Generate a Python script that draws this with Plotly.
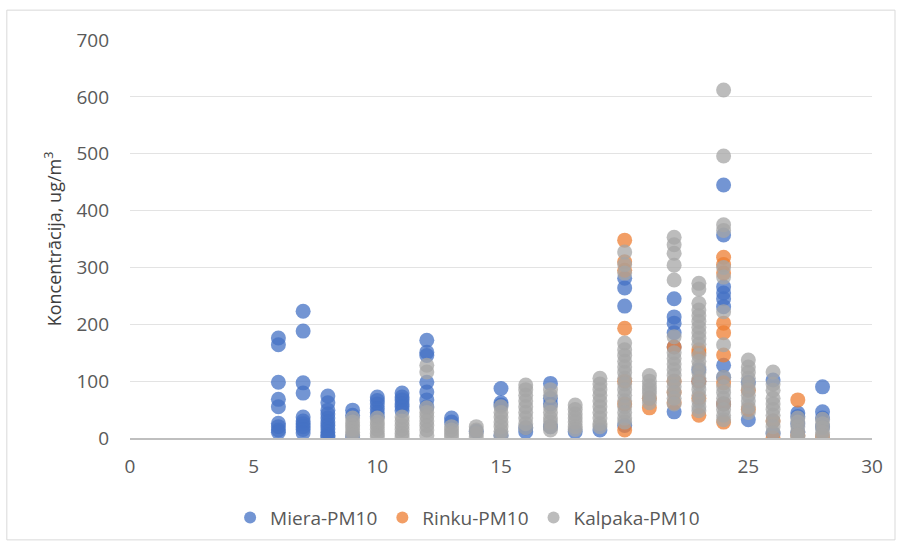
import plotly.graph_objects as go

# PM10 concentrations (ug/m3) per day for three monitoring stations
miera_days = [6, 7, 8, 9, 10, 11, 12, 13, 14, 15, 16, 17, 18, 19, 20, 22, 23, 24, 25, 26, 27, 28]
miera_values = [
    [176, 164, 98, 68, 55, 26, 20, 14, 10],
    [223, 188, 97, 79, 37, 30, 25, 20, 15, 9],
    [74, 62, 49, 42, 35, 28, 22, 16, 10, 5, 2],
    [49, 40, 2],
    [72, 66, 60, 52, 45, 38],
    [79, 72, 67, 60, 55, 48],
    [172, 151, 145, 98, 81, 67, 55],
    [35, 28],
    [12],
    [87, 62, 58, 5],
    [11, 18],
    [96, 70, 60, 20],
    [11],
    [14],
    [281, 264, 232, 22],
    [245, 213, 202, 185, 160, 46],
    [120, 100],
    [445, 357, 266, 255, 245, 231, 128, 107, 60],
    [98, 32],
    [102, 8],
    [44, 38, 25, 10],
    [90, 46, 35, 20],
]

rinku_days = [20, 21, 22, 23, 24, 25, 26, 27, 28]
rinku_values = [
    [348, 310, 295, 193, 100, 60, 14],
    [70, 53],
    [160, 100, 80, 62],
    [155, 150, 100, 70, 40],
    [318, 305, 290, 202, 185, 146, 97, 60, 28],
    [84, 50],
    [30, 0],
    [67, 5],
    [2],
]

kalpaka_days = [9, 10, 11, 12, 13, 14, 15, 16, 17, 18, 19, 20, 21, 22, 23, 24, 25, 26, 27, 28]
kalpaka_values = [
    [35, 28, 22, 16, 10, 5],
    [35, 28, 22, 15, 8, 3],
    [37, 30, 22, 15, 8, 2],
    [128, 116, 53, 45, 38, 30, 22, 14, 5],
    [20, 14, 8, 2],
    [20, 14, 8, 2],
    [55, 45, 37, 28, 20, 12, 5],
    [93, 85, 75, 65, 55, 45, 35, 25, 18],
    [85, 75, 55, 45, 35, 28, 20, 14],
    [58, 50, 42, 35, 28, 20, 15],
    [105, 95, 85, 75, 65, 55, 45, 35, 25, 20],
    [327, 305, 290, 167, 155, 145, 135, 125, 115, 105, 95, 85, 75, 65, 55, 45, 35, 28],
    [110, 100, 92, 85, 78, 70, 62],
    [353, 340, 325, 304, 278, 178, 150, 140, 130, 120, 110, 100, 90, 80, 70, 60],
    [272, 262, 237, 225, 215, 205, 195, 185, 175, 165, 145, 135, 125, 115, 105, 95, 85, 75, 65, 55, 48],
    [612, 496, 375, 365, 300, 283, 222, 164, 107, 90, 80, 70, 60, 50, 40, 32],
    [137, 125, 115, 105, 95, 85, 75, 65, 55, 45],
    [116, 95, 84, 70, 60, 50, 40, 30, 20, 9],
    [35, 28, 20, 12, 5, 2],
    [33, 25, 18, 10, 4],
]

series_names = ["Miera-PM10", "Rinku-PM10", "Kalpaka-PM10"]
series_colors = ["#4472C4", "#ED7D31", "#A5A5A5"]


def flatten(days, values):
    xs, ys = [], []
    for d, vals in zip(days, values):
        for v in vals:
            xs.append(d)
            ys.append(v)
    return xs, ys


fig = go.Figure()
for name, color, (days, values) in zip(
    series_names, series_colors,
    [(miera_days, miera_values), (rinku_days, rinku_values), (kalpaka_days, kalpaka_values)],
):
    xs, ys = flatten(days, values)
    fig.add_trace(go.Scatter(
        x=xs, y=ys, mode="markers", name=name,
        marker=dict(size=15, color=color, opacity=0.75, line=dict(width=0)),
    ))

font_family = "Open Sans, Liberation Sans, sans-serif"
text_color = "#595959"

fig.update_layout(
    width=902, height=549,
    margin=dict(l=130, r=30, t=40, b=111),
    paper_bgcolor="white", plot_bgcolor="white",
    font=dict(family=font_family, color=text_color, size=18),
    showlegend=True,
    legend=dict(
        orientation="h", x=0.455, xanchor="center", y=-0.2, yanchor="middle",
        font=dict(size=19, color=text_color), itemsizing="constant",
        bgcolor="rgba(0,0,0,0)",
    ),
    xaxis=dict(
        range=[0, 30], dtick=5, tick0=0, showgrid=False, zeroline=False,
        showline=True, linecolor="#BFBFBF", linewidth=2,
        tickfont=dict(size=19, color=text_color), ticks="", ticklabelstandoff=10,
    ),
    yaxis=dict(
        range=[0, 700], dtick=100, tick0=0, showgrid=True, gridcolor="#E3E3E3",
        gridwidth=1, zeroline=False, showline=False,
        tickfont=dict(size=19, color=text_color), ticks="", ticklabelstandoff=20,
        title=dict(text="Koncentrācija, ug/m<sup>3</sup>", font=dict(size=18, color="#404040"), standoff=10),
    ),
    shapes=[dict(
        type="rect", xref="paper", yref="paper",
        x0=-0.166, x1=1.031, y0=-0.256, y1=1.075,
        line=dict(color="#D9D9D9", width=1), fillcolor="rgba(0,0,0,0)", layer="below",
    )],
)

fig.write_html("out.html")
